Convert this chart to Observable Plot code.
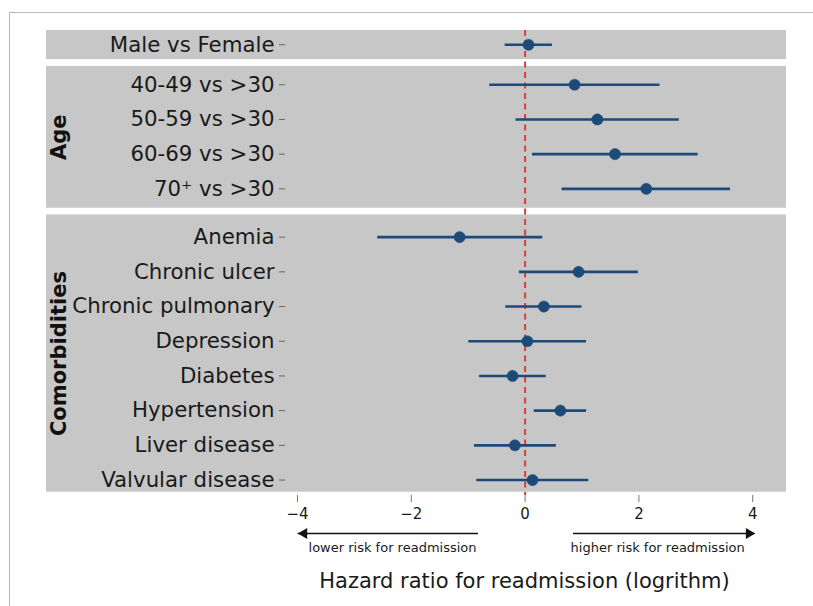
<!DOCTYPE html>
<html>
<head>
<meta charset="utf-8">
<script src="https://cdn.jsdelivr.net/npm/d3@7"></script>
<script src="https://cdn.jsdelivr.net/npm/@observablehq/plot@0.6"></script>
<style>
  html, body { margin: 0; padding: 0; background: #fff; }
  #wrap { position: relative; width: 813px; height: 606px; overflow: hidden; }
  #border { position: absolute; left: 9px; top: 12px; width: 900px; height: 700px;
            border-left: 1.5px solid #b8b8b8; border-top: 1.5px solid #b8b8b8; }
  #chart { position: absolute; left: 0; top: 0; }
</style>
</head>
<body>
<div id="wrap"><div id="border"></div><div id="chart"></div></div>
<script>
// ---- data ----
const rowLabels = ["Male vs Female", "40-49 vs >30", "50-59 vs >30", "60-69 vs >30", "70⁺ vs >30",
  "Anemia", "Chronic ulcer", "Chronic pulmonary", "Depression", "Diabetes", "Hypertension",
  "Liver disease", "Valvular disease"];
const rowGroup = [0, 1, 1, 1, 1, 2, 2, 2, 2, 2, 2, 2, 2];
const groupNames = ["", "Age", "Comorbidities"];
const estimate = [0.06, 0.87, 1.27, 1.58, 2.13, -1.15, 0.94, 0.33, 0.04, -0.22, 0.62, -0.18, 0.13];
const lower    = [-0.35, -0.62, -0.16, 0.13, 0.65, -2.59, -0.10, -0.34, -0.99, -0.80, 0.16, -0.89, -0.85];
const upper    = [0.48, 2.37, 2.71, 3.04, 3.61, 0.31, 1.99, 1.00, 1.08, 0.37, 1.08, 0.55, 1.12];
const xTicks = [-4, -2, 0, 2, 4];
const xTitle = "Hazard ratio for readmission (logrithm)";
const noteText = ["lower risk for readmission", "higher risk for readmission"];
const noteX = [-2.33, 2.33];
const arrowFrom = [-0.82, 0.85];
const arrowTo = [-3.99, 4.04];

// ---- layout ----
const groupOffset = [0, 0.153, 0.545];
const padTop = [0.41, 0.53, 0.64];
const padBottom = [0.43, 0.56, 0.35];
const yDomain = [-0.41, 12.99];

const rows = rowLabels.map((label, i) => ({
  label, group: rowGroup[i], pos: i + groupOffset[rowGroup[i]],
  est: estimate[i], lo: lower[i], hi: upper[i]
}));
const panels = groupNames.map((name, g) => {
  const r = rows.filter(d => d.group === g);
  const y1 = r[0].pos - padTop[g], y2 = r[r.length - 1].pos + padBottom[g];
  return {name, y1, y2, mid: (y1 + y2) / 2};
});
const labelOf = new Map(rows.map(d => [d.pos, d.label]));
const arrows = arrowFrom.map((a, i) => ({x1: a, x2: arrowTo[i], y: yDomain[1]}));
const notes = noteText.map((t, i) => ({t, x: noteX[i]}));

const blue = "#1d4a78";
const chart = Plot.plot({
  width: 813, height: 606,
  marginLeft: 285, marginRight: 50, marginTop: 30, marginBottom: 111,
  style: {fontFamily: "'DejaVu Sans', Verdana, sans-serif", color: "#1a1a1a", background: "transparent", overflow: "visible"},
  x: {domain: [-4.211, 4.19]},
  y: {domain: yDomain, reverse: true},
  marks: [
    Plot.rect(panels, {y1: "y1", y2: "y2", fill: "#c7c7c7", insetLeft: -239, insetRight: -23}),
    Plot.text(panels.filter(d => d.name), {y: "mid", text: "name", frameAnchor: "left", dx: -226,
      textAnchor: "middle", rotate: -90, fontWeight: "bold", fontSize: 21, fill: "#111"}),
    Plot.ruleX([0], {stroke: "#d4403c", strokeWidth: 2, strokeDasharray: "6,4.5"}),
    Plot.ruleY(rows, {y: "pos", x1: "lo", x2: "hi", stroke: blue, strokeWidth: 2.6}),
    Plot.dot(rows, {x: "est", y: "pos", r: 5.6, fill: blue, stroke: blue, strokeWidth: 0.5}),
    Plot.axisY(rows.map(d => d.pos), {anchor: "left", tickFormat: d => labelOf.get(d), tickSize: 6,
      tickPadding: 5, fontSize: 21.3, stroke: "#666", line: true, label: null}),
    Plot.axisX(xTicks, {anchor: "bottom", tickSize: 7, tickPadding: 6, fontSize: 15, stroke: "#777",
      line: true, label: null}),
    Plot.ruleY(arrows, {y: "y", x1: "x1", x2: "x2", dy: 38, stroke: "#111", strokeWidth: 1.6}),
    Plot.dot(arrows.slice(0, 1), {x: "x2", y: "y", dy: 38, dx: 6, symbol: "triangle", r: 4, rotate: -90, fill: "#111"}),
    Plot.dot(arrows.slice(1), {x: "x2", y: "y", dy: 38, dx: -6, symbol: "triangle", r: 4, rotate: 90, fill: "#111"}),
    Plot.text(notes, {x: "x", text: "t", frameAnchor: "bottom", dy: 56, fontSize: 13, fill: "#1a1a1a"}),
    Plot.text([xTitle], {text: d => d, frameAnchor: "bottom", dy: 92, fontSize: 21, fill: "#1a1a1a"})
  ]
});
document.getElementById("chart").appendChild(chart);
</script>
</body>
</html>
